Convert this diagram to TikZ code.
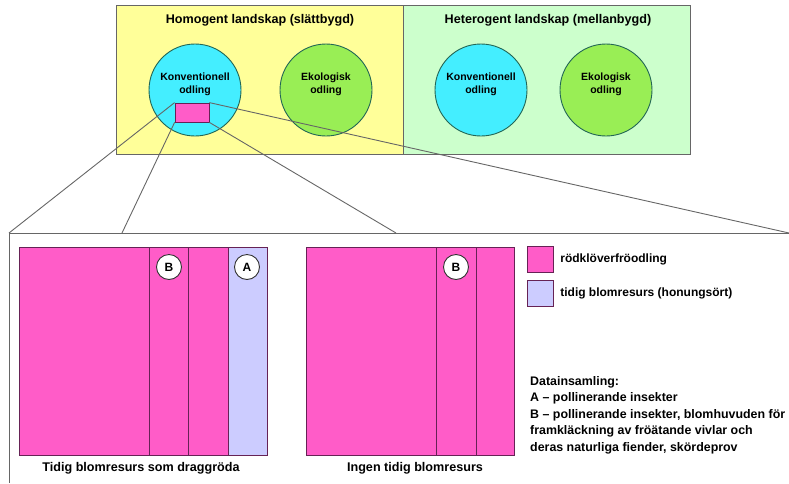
\documentclass[tikz,border=0pt]{standalone}
\usepackage{fontspec}
\setmainfont{Liberation Sans}
\definecolor{homogfill}{HTML}{FFFF99}
\definecolor{heterofill}{HTML}{CCFFCC}
\definecolor{konvfill}{HTML}{44EEFF}
\definecolor{ekofill}{HTML}{99EE55}
\definecolor{klover}{HTML}{FF5CC8}
\definecolor{honung}{HTML}{CCCCFF}
\definecolor{ringline}{HTML}{226655}
\definecolor{fieldline}{HTML}{662255}
\tikzset{
    landbox/.style={draw=black!60, line width=0.9pt, anchor=north west, inner sep=0pt},
    cropcirc/.style={circle, draw=ringline, line width=0.9pt, minimum size=92pt, inner sep=0pt},
    circtext/.style={font=\bfseries\fontsize{10.5}{13}\selectfont, align=center},
    fieldbox/.style={draw=fieldline, line width=0.8pt, fill=klover, anchor=north west, minimum width=#1, minimum height=208pt, inner sep=0pt},
    marker/.style={circle, draw=black!80, fill=white, line width=0.9pt, minimum size=25pt, inner sep=0pt, font=\bfseries\fontsize{12}{12}\selectfont},
    legbox/.style={draw=fieldline, line width=0.8pt, minimum width=26pt, minimum height=26pt, inner sep=0pt, anchor=north west},
    frame/.style={draw=black!60, line width=0.9pt},
    bigtext/.style={font=\bfseries\fontsize{12.6}{15}\selectfont},
}
\begin{document}
\begin{tikzpicture}[x=1pt, y=-1pt]
    \useasboundingbox (0,0) rectangle (789,483);
    % landscapes
    \node[landbox, fill=homogfill, minimum width=287pt, minimum height=149pt] (homog) at (116,5) {};
    \node[landbox, fill=heterofill, minimum width=287pt, minimum height=149pt] (hetero) at (403,5) {};
    \node[bigtext] (homogT) at (260,20) {Homogent landskap (slättbygd)};
    \node[bigtext] (heteroT) at (548,20) {Heterogent landskap (mellanbygd)};
    \foreach \x/\name/\col/\txt in {195/konvA/konvfill/Konventionell, 326/ekoA/ekofill/Ekologisk,
                                     481/konvB/konvfill/Konventionell, 606/ekoB/ekofill/Ekologisk} {
        \node[cropcirc, fill=\col, label={[circtext, yshift=6pt]center:{\txt\\odling}}] (\name) at (\x,90) {};
    }
    % sample plot
    \node[draw=fieldline, line width=0.8pt, fill=klover, minimum width=34pt, minimum height=19pt, inner sep=0pt] (plot) at (192,112.5) {};
    % zoom frame
    \coordinate (fTL) at (9,233);
    \coordinate (fTR) at (789,233);
    \coordinate (fBL) at (9,483);
    \coordinate (fA) at (122,233);
    \coordinate (fB) at (396,233);
    \draw[frame] (fTR) -- (fTL) -- (fBL);
    \draw[frame] (plot.north west) -- (fTL);
    \draw[frame] (plot.south west) -- (fA);
    \draw[frame] (plot.south east) -- (fB);
    \draw[frame] (plot.north east) -- (fTR);
    % field with early resource
    \node[fieldbox=248pt] (fieldA) at (19,247) {};
    \fill[honung] (228,247) rectangle (267,455);
    \draw[fieldline, line width=0.8pt] (fieldA.north west) rectangle (fieldA.south east);
    \foreach \x in {149,188,228} \draw[fieldline, line width=0.8pt] (\x,247) -- (\x,455);
    \node[marker] (mB1) at (169,267) {B};
    \node[marker] (mA1) at (247,267) {A};
    \node[bigtext] (capA) at (141,468) {Tidig blomresurs som draggröda};
    % field without early resource
    \node[fieldbox=208pt] (fieldB) at (306,247) {};
    \foreach \x in {436,476} \draw[fieldline, line width=0.8pt] (\x,247) -- (\x,455);
    \node[marker] (mB2) at (456,267) {B};
    \node[bigtext] (capB) at (415,468) {Ingen tidig blomresurs};
    % legend
    \node[legbox, fill=klover] (legK) at (527,246) {};
    \node[legbox, fill=honung] (legH) at (527,280) {};
    \node[anchor=west, font=\bfseries\fontsize{12}{14}\selectfont] (legKT) at ([xshift=3pt]legK.east) {rödklöverfröodling};
    \node[anchor=west, font=\bfseries\fontsize{12}{14}\selectfont] (legHT) at ([xshift=3pt]legH.east) {tidig blomresurs (honungsört)};
    \node[anchor=north west, inner sep=0pt, align=left, font=\bfseries\fontsize{12.4}{16.5}\selectfont] (data) at (530,376) {%
        Datainsamling:\\
        A -- pollinerande insekter\\
        B -- pollinerande insekter, blomhuvuden för\\
        framkläckning av fröätande vivlar och\\
        deras naturliga fiender, skördeprov};
\end{tikzpicture}
\end{document}
